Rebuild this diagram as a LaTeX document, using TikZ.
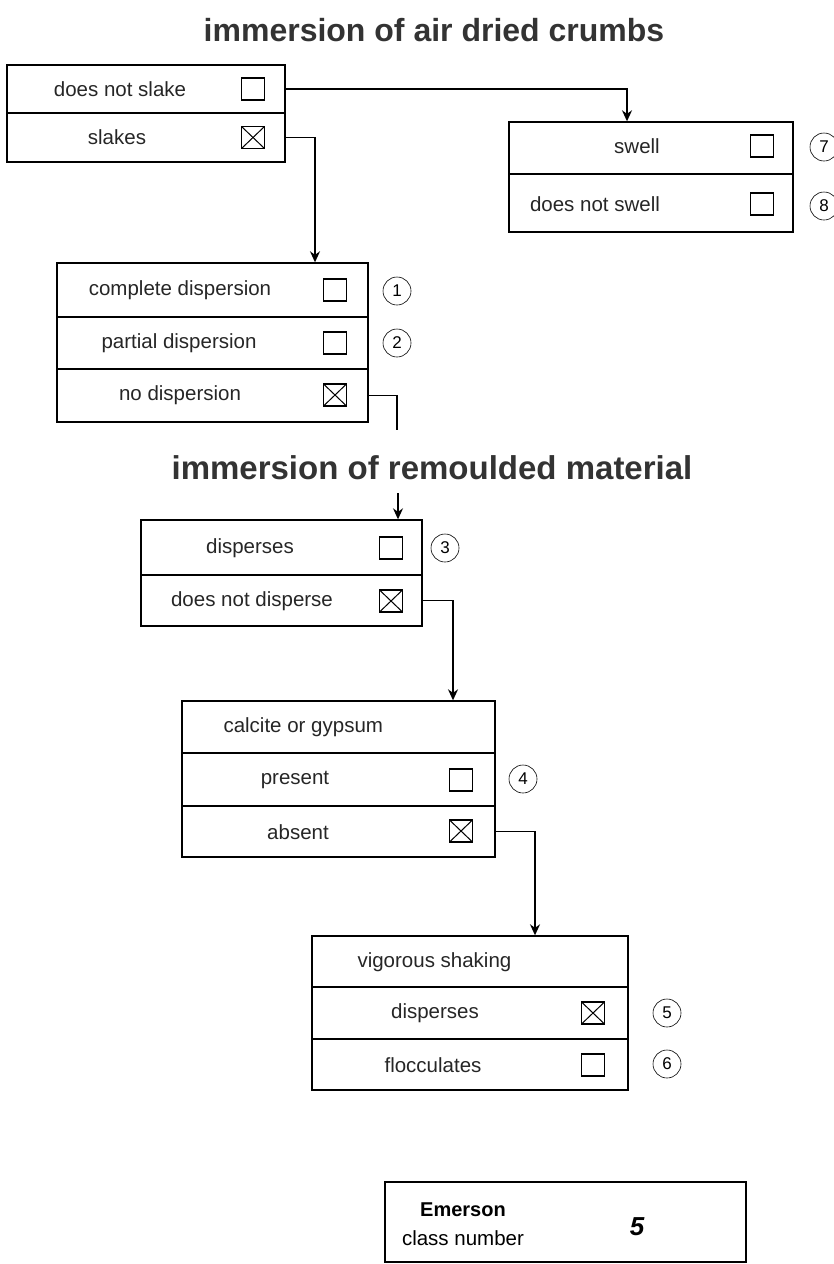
\documentclass[tikz,border=0pt]{standalone}
\usepackage{fontspec}
\setmainfont{Liberation Sans}
\usetikzlibrary{arrows.meta}

\begin{document}
\begin{tikzpicture}[x=1pt,y=-1pt,
    row/.style={draw,line width=1.4pt,inner sep=0pt},
    lbl/.style={font=\fontsize{20.5}{24}\selectfont,text=black!85},
    chk/.style={draw,line width=1.2pt,minimum width=23pt,minimum height=22pt,inner sep=0pt},
    chkx/.style={chk,path picture={\draw[line width=1pt]
        (path picture bounding box.south west) -- (path picture bounding box.north east)
        (path picture bounding box.north west) -- (path picture bounding box.south east);}},
    num/.style={circle,draw,line width=0.6pt,minimum size=28pt,inner sep=0pt,font=\fontsize{17}{20}\selectfont},
    ttl/.style={font=\fontsize{32}{36}\selectfont\bfseries,text=black!80,anchor=base},
    link/.style={line width=1.6pt,-{Stealth[length=11pt,width=10pt]}}]
      \useasboundingbox (0,0) rectangle (834,1264);

      \node[ttl] (ttlair) at (434,41) {immersion of air dried crumbs};

      \node[row,minimum width=278pt,minimum height=48pt] (a1) at (146,89) {};
      \node[row,minimum width=278pt,minimum height=49pt] (a2) at (146,137.5) {};
      \node[lbl] at (120,89) {does not slake};
      \node[chk] (a1c) at (253,89) {};
      \node[lbl] at (117,137.5) {slakes};
      \node[chkx] (a2c) at (253,137.5) {};

      \node[row,minimum width=284pt,minimum height=52pt] (s1) at (651,148) {};
      \node[row,minimum width=284pt,minimum height=58pt] (s2) at (651,203) {};
      \node[lbl] at (637,146) {swell};
      \node[chk] (s1c) at (762,146) {};
      \node[num] (n7) at (824,147) {7};
      \node[lbl] at (595,204) {does not swell};
      \node[chk] (s2c) at (762,204) {};
      \node[num] (n8) at (824,206) {8};

      \node[row,minimum width=311pt,minimum height=54pt] (d1) at (212.5,290) {};
      \node[row,minimum width=311pt,minimum height=52pt] (d2) at (212.5,343) {};
      \node[row,minimum width=311pt,minimum height=53pt] (d3) at (212.5,395.5) {};
      \node[lbl] at (180,290) {complete dispersion};
      \node[chk] (d1c) at (335,290) {};
      \node[num] (n1) at (397,291) {1};
      \node[lbl] at (179,343) {partial dispersion};
      \node[chk] (d2c) at (335,343) {};
      \node[num] (n2) at (397,343) {2};
      \node[lbl] at (180,395) {no dispersion};
      \node[chkx] (d3c) at (335,395) {};

      \node[ttl,font=\fontsize{33}{36}\selectfont\bfseries] (ttlrem) at (432,479) {immersion of remoulded material};

      \node[row,minimum width=281pt,minimum height=55pt] (r1) at (281.5,547.5) {};
      \node[row,minimum width=281pt,minimum height=51pt] (r2) at (281.5,600.5) {};
      \node[lbl] at (250,548) {disperses};
      \node[chk] (r1c) at (391,548) {};
      \node[num] (n3) at (445,548) {3};
      \node[lbl] at (252,601) {does not disperse};
      \node[chkx] (r2c) at (391,601) {};

      \node[row,minimum width=313pt,minimum height=52pt] (c0) at (338.5,727) {};
      \node[row,minimum width=313pt,minimum height=53pt] (c1) at (338.5,779.5) {};
      \node[row,minimum width=313pt,minimum height=51pt] (c2) at (338.5,831.5) {};
      \node[lbl,anchor=west] at (220,727) {calcite or gypsum};
      \node[lbl] at (295,780) {present};
      \node[chk] (c1c) at (461,780) {};
      \node[num] (n4) at (523,779) {4};
      \node[lbl] at (298,832) {absent};
      \node[chkx] (c2c) at (461,831) {};

      \node[row,minimum width=316pt,minimum height=51pt] (v0) at (470,961.5) {};
      \node[row,minimum width=316pt,minimum height=52pt] (v1) at (470,1013) {};
      \node[row,minimum width=316pt,minimum height=51pt] (v2) at (470,1064.5) {};
      \node[lbl,anchor=west] at (354,962) {vigorous shaking};
      \node[lbl] at (435,1013) {disperses};
      \node[chkx] (v1c) at (593,1013) {};
      \node[num] (n5) at (667,1013) {5};
      \node[lbl] at (433,1065) {flocculates};
      \node[chk] (v2c) at (593,1065) {};
      \node[num] (n6) at (667,1064) {6};

      \node[draw,line width=1.8pt,minimum width=361pt,minimum height=80pt] (cls) at (565.5,1222) {};
      \node[lbl,font=\fontsize{20}{24}\selectfont\bfseries,text=black] at (463,1210) {Emerson};
      \node[lbl,text=black] at (463,1238) {class number};
      \node[font=\fontsize{26}{30}\selectfont\bfseries\itshape] (clsno) at (637,1227) {5};

      \coordinate (gapa) at (397,430);
      \coordinate (gapb) at (398,493);
      \draw[link] (a1.east) -| ([xshift=-24pt]s1.north);
      \draw[link] (a2.east) -| ([xshift=102.5pt]d1.north);
      \draw[line width=1.6pt] (d3.east) -| (gapa);
      \draw[link,line width=1.2pt] (gapb) -- (gapb |- r1.north);
      \draw[link] (r2.east) -| ([xshift=114.5pt]c0.north);
      \draw[link] (c2.east) -| ([xshift=65pt]v0.north);
\end{tikzpicture}
\end{document}
